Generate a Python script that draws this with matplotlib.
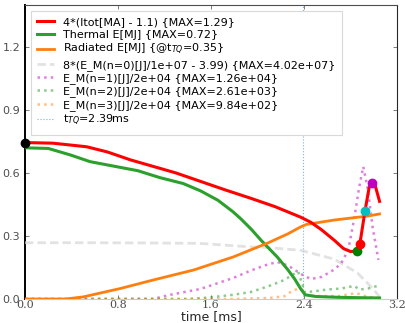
import matplotlib
matplotlib.use('Agg')
import matplotlib.pyplot as plt

# Plasma current, scaled: 4*(Itot[MA] - 1.1)
t_cur = [0.0, 0.24, 0.53, 0.71, 0.91, 1.08, 1.3, 1.51, 1.72, 1.94, 2.15, 2.37, 2.46, 2.55,
         2.66, 2.74, 2.80, 2.855, 2.88, 2.925, 2.96, 2.985, 3.01, 3.05]
cur = [0.745, 0.742, 0.725, 0.70, 0.662, 0.635, 0.60, 0.56, 0.52, 0.48, 0.44, 0.39, 0.365, 0.33,
       0.28, 0.24, 0.226, 0.229, 0.26, 0.42, 0.53, 0.553, 0.545, 0.465]

# Thermal energy [MJ]
t_th = [0.0, 0.2, 0.39, 0.56, 0.76, 0.97, 1.16, 1.36, 1.51, 1.66, 1.79, 1.86, 1.95, 2.03,
        2.1, 2.17, 2.26, 2.32, 2.37, 2.41, 2.5, 2.7, 2.9, 3.05]
th = [0.72, 0.717, 0.686, 0.654, 0.633, 0.611, 0.578, 0.55, 0.515, 0.47, 0.415, 0.38, 0.33, 0.28,
      0.24, 0.2, 0.14, 0.095, 0.05, 0.02, 0.012, 0.008, 0.006, 0.005]

# Radiated energy [MJ]
t_rad = [0.0, 0.35, 0.5, 0.82, 1.1, 1.45, 1.79, 2.09, 2.26, 2.37, 2.42, 2.66, 2.95, 3.05]
rad = [0.0, 0.0, 0.01, 0.05, 0.09, 0.138, 0.2, 0.267, 0.31, 0.343, 0.355, 0.376, 0.395, 0.405]

# Magnetic energy per toroidal mode, scaled
t_em0 = [0.0, 0.5, 1.0, 1.5, 1.94, 2.09, 2.37, 2.66, 2.86, 3.0, 3.05]
em0 = [0.268, 0.268, 0.267, 0.265, 0.248, 0.245, 0.232, 0.19, 0.124, 0.045, 0.01]

t_em1 = [0.0, 1.1, 1.25, 1.51, 1.79, 1.94, 2.09, 2.17, 2.26, 2.39, 2.46, 2.55, 2.66, 2.72,
         2.78, 2.83, 2.875, 2.91, 2.95, 2.99, 3.04]
em1 = [0.0, 0.0, 0.02, 0.048, 0.1, 0.135, 0.165, 0.176, 0.16, 0.114, 0.095, 0.105, 0.14, 0.17,
       0.233, 0.376, 0.533, 0.63, 0.52, 0.343, 0.186]

t_em2 = [0.0, 1.4, 1.6, 1.79, 1.94, 2.09, 2.23, 2.3, 2.35, 2.38, 2.41, 2.46, 2.6, 2.72,
         2.83, 2.88, 2.95, 3.05]
em2 = [0.0, 0.0, 0.008, 0.02, 0.033, 0.06, 0.09, 0.115, 0.13, 0.08, 0.03, 0.035, 0.045, 0.05,
       0.062, 0.045, 0.05, 0.065]

t_em3 = [0.0, 1.8, 2.1, 2.23, 2.31, 2.37, 2.41, 2.5, 2.7, 2.85, 2.95, 3.05]
em3 = [0.0, 0.0, 0.005, 0.013, 0.043, 0.049, 0.02, 0.014, 0.014, 0.028, 0.01, 0.005]

t_tq = 2.39

# event markers on the current trace
mark_t = [2.855, 2.88, 2.925, 2.985]
mark_v = [0.229, 0.26, 0.42, 0.553]
mark_c = ['g', 'r', 'c', 'm']

labels = [
    '4*(Itot[MA] - 1.1) {MAX=1.29}',
    'Thermal E[MJ] {MAX=0.72}',
    r'Radiated E[MJ] {@t$_{TQ}$=0.35}',
    '8*(E_M(n=0)[J]/1e+07 - 3.99) {MAX=4.02e+07}',
    'E_M(n=1)[J]/2e+04 {MAX=1.26e+04}',
    'E_M(n=2)[J]/2e+04 {MAX=2.61e+03}',
    'E_M(n=3)[J]/2e+04 {MAX=9.84e+02}',
    r't$_{TQ}$=2.39ms',
]

fig = plt.figure(figsize=(4.05, 3.23), dpi=100)
ax = fig.add_axes([25 / 405, 1 - 299 / 323, 372 / 405, 294 / 323])

ax.plot(t_cur, cur, color='r', lw=2.2, label=labels[0], zorder=5)
ax.plot(t_th, th, color='#2ca02c', lw=2.2, label=labels[1], zorder=4)
ax.plot(t_rad, rad, color='#ff7f0e', lw=2.0, label=labels[2], zorder=4)
ax.plot(t_em0, em0, color='0.84', lw=2.0, dashes=(3, 1.5), alpha=0.7, label=labels[3], zorder=3)
ax.plot(t_em1, em1, color='m', lw=1.8, ls=':', alpha=0.5, label=labels[4], zorder=3)
ax.plot(t_em2, em2, color='#2ca02c', lw=1.8, ls=':', alpha=0.55, label=labels[5], zorder=3)
ax.plot(t_em3, em3, color='#ff7f0e', lw=1.8, ls=':', alpha=0.5, label=labels[6], zorder=3)
ax.axvline(t_tq, color='#7fb3d5', lw=0.8, ls=':', label=labels[7], zorder=2)

for tm, v, c in zip(mark_t, mark_v, mark_c):
    ax.plot(tm, v, 'o', color=c, ms=6, zorder=6)
ax.plot(t_cur[0], cur[0], 'o', color='k', ms=6, zorder=6, clip_on=False)

ax.set_xlim(0, 3.2)
ax.set_ylim(0, 1.4)
ax.set_xticks([0.0, 0.8, 1.6, 2.4, 3.2])
ax.set_yticks([0.0, 0.3, 0.6, 0.9, 1.2])
ax.tick_params(direction='in', top=True, right=True, length=3, width=0.6,
               color='0.4', labelcolor='0.3', labelsize=8)
ax.tick_params(axis='x', pad=1)
for lab in ax.get_xticklabels():
    lab.set_fontfamily('DejaVu Serif')
ax.set_xlabel('time [ms]', fontsize=9, color='0.15', labelpad=0)

ax.spines['left'].set_color('k')
ax.spines['left'].set_linewidth(1.4)
ax.spines['right'].set_color('0.15')
ax.spines['top'].set_color('0.3')
ax.spines['bottom'].set_color('0.8')

leg = ax.legend(loc='upper left', fontsize=8.0, handlelength=1.5, labelspacing=0.22,
                borderpad=0.6, fancybox=False, framealpha=1, borderaxespad=0.5)
leg.get_frame().set_edgecolor('0.85')
leg.get_frame().set_linewidth(0.8)

plt.savefig('out.png', dpi=100)
